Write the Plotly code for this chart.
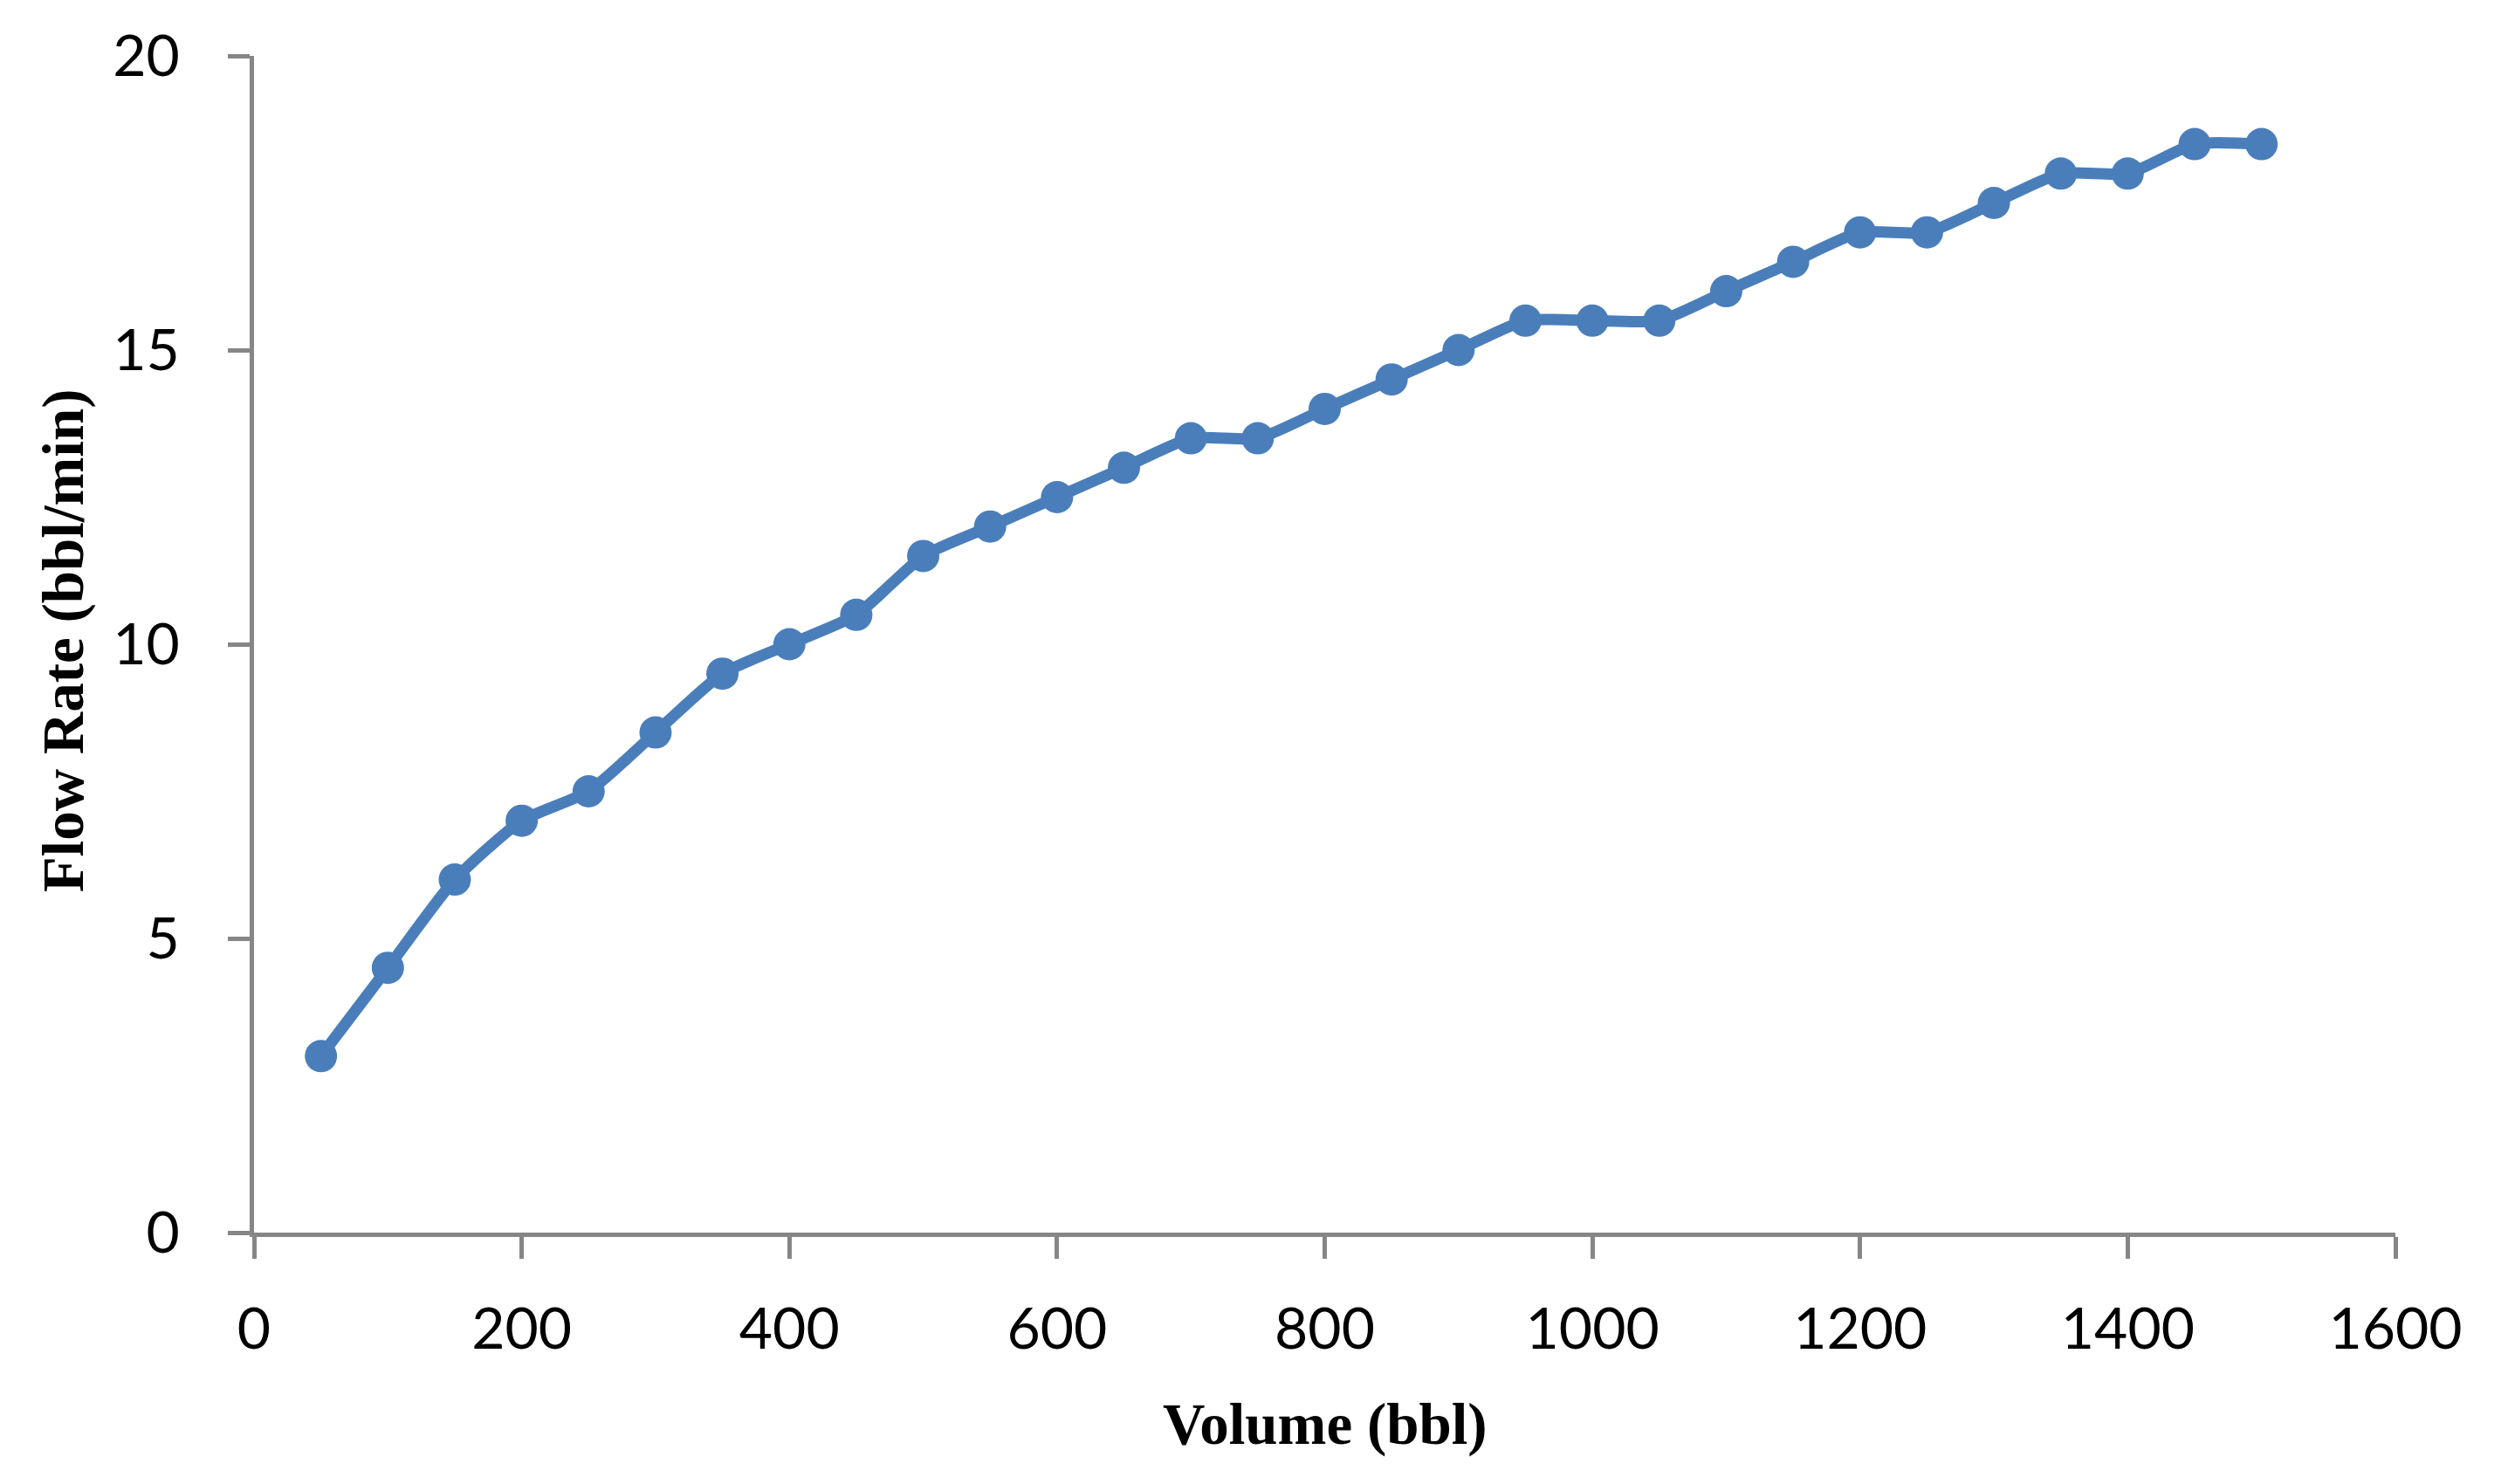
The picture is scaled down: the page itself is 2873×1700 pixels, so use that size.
import plotly.graph_objects as go

volume = [50, 100, 150, 200, 250, 300, 350, 400, 450, 500, 550, 600, 650, 700, 750,
          800, 850, 900, 950, 1000, 1050, 1100, 1150, 1200, 1250, 1300, 1350, 1400, 1450, 1500]
flow_rate = [3, 4.5, 6, 7, 7.5, 8.5, 9.5, 10, 10.5, 11.5, 12, 12.5, 13, 13.5, 13.5,
             14, 14.5, 15, 15.5, 15.5, 15.5, 16, 16.5, 17, 17, 17.5, 18, 18, 18.5, 18.5]
x_ticks = [0, 200, 400, 600, 800, 1000, 1200, 1400, 1600]
y_ticks = [0, 5, 10, 15, 20]

W, H = 2873, 1700
L, R, T, B = 283, 137, 56, 296

fig = go.Figure()
fig.add_trace(go.Scatter(
    x=volume, y=flow_rate, mode="lines+markers",
    line=dict(color="#4a7ebb", width=13, shape="spline", smoothing=0.6),
    marker=dict(color="#4a7ebb", size=37, symbol="circle"),
    showlegend=False, cliponaxis=False,
))

axis_common = dict(
    showgrid=False, zeroline=False, showline=True, linecolor="#868686", linewidth=5,
    ticks="outside", ticklen=25, tickwidth=5, tickcolor="#868686",
    tickfont=dict(family="Lato", size=66, color="#000000"),
)
fig.update_xaxes(range=[0, 1600], tickvals=x_ticks, ticklabelstandoff=24, **axis_common)
fig.update_yaxes(range=[0, 20], tickvals=y_ticks, ticklabelstandoff=42, **axis_common)

title_font = dict(family="Liberation Serif", size=67, color="#000000")
fig.add_annotation(text="<b>Volume (bbl)</b>", xref="paper", yref="paper",
                   x=0.5, y=-0.163, showarrow=False, font=title_font,
                   xanchor="center", yanchor="middle")
fig.add_annotation(text="<b>Flow Rate (bbl/min)</b>", xref="paper", yref="paper",
                   x=-0.0887, y=0.503, showarrow=False, font=title_font, textangle=-90,
                   xanchor="center", yanchor="middle")

fig.update_layout(
    width=W, height=H, margin=dict(l=L, r=R, t=T, b=B),
    paper_bgcolor="white", plot_bgcolor="white",
)
fig.write_html("out.html")
